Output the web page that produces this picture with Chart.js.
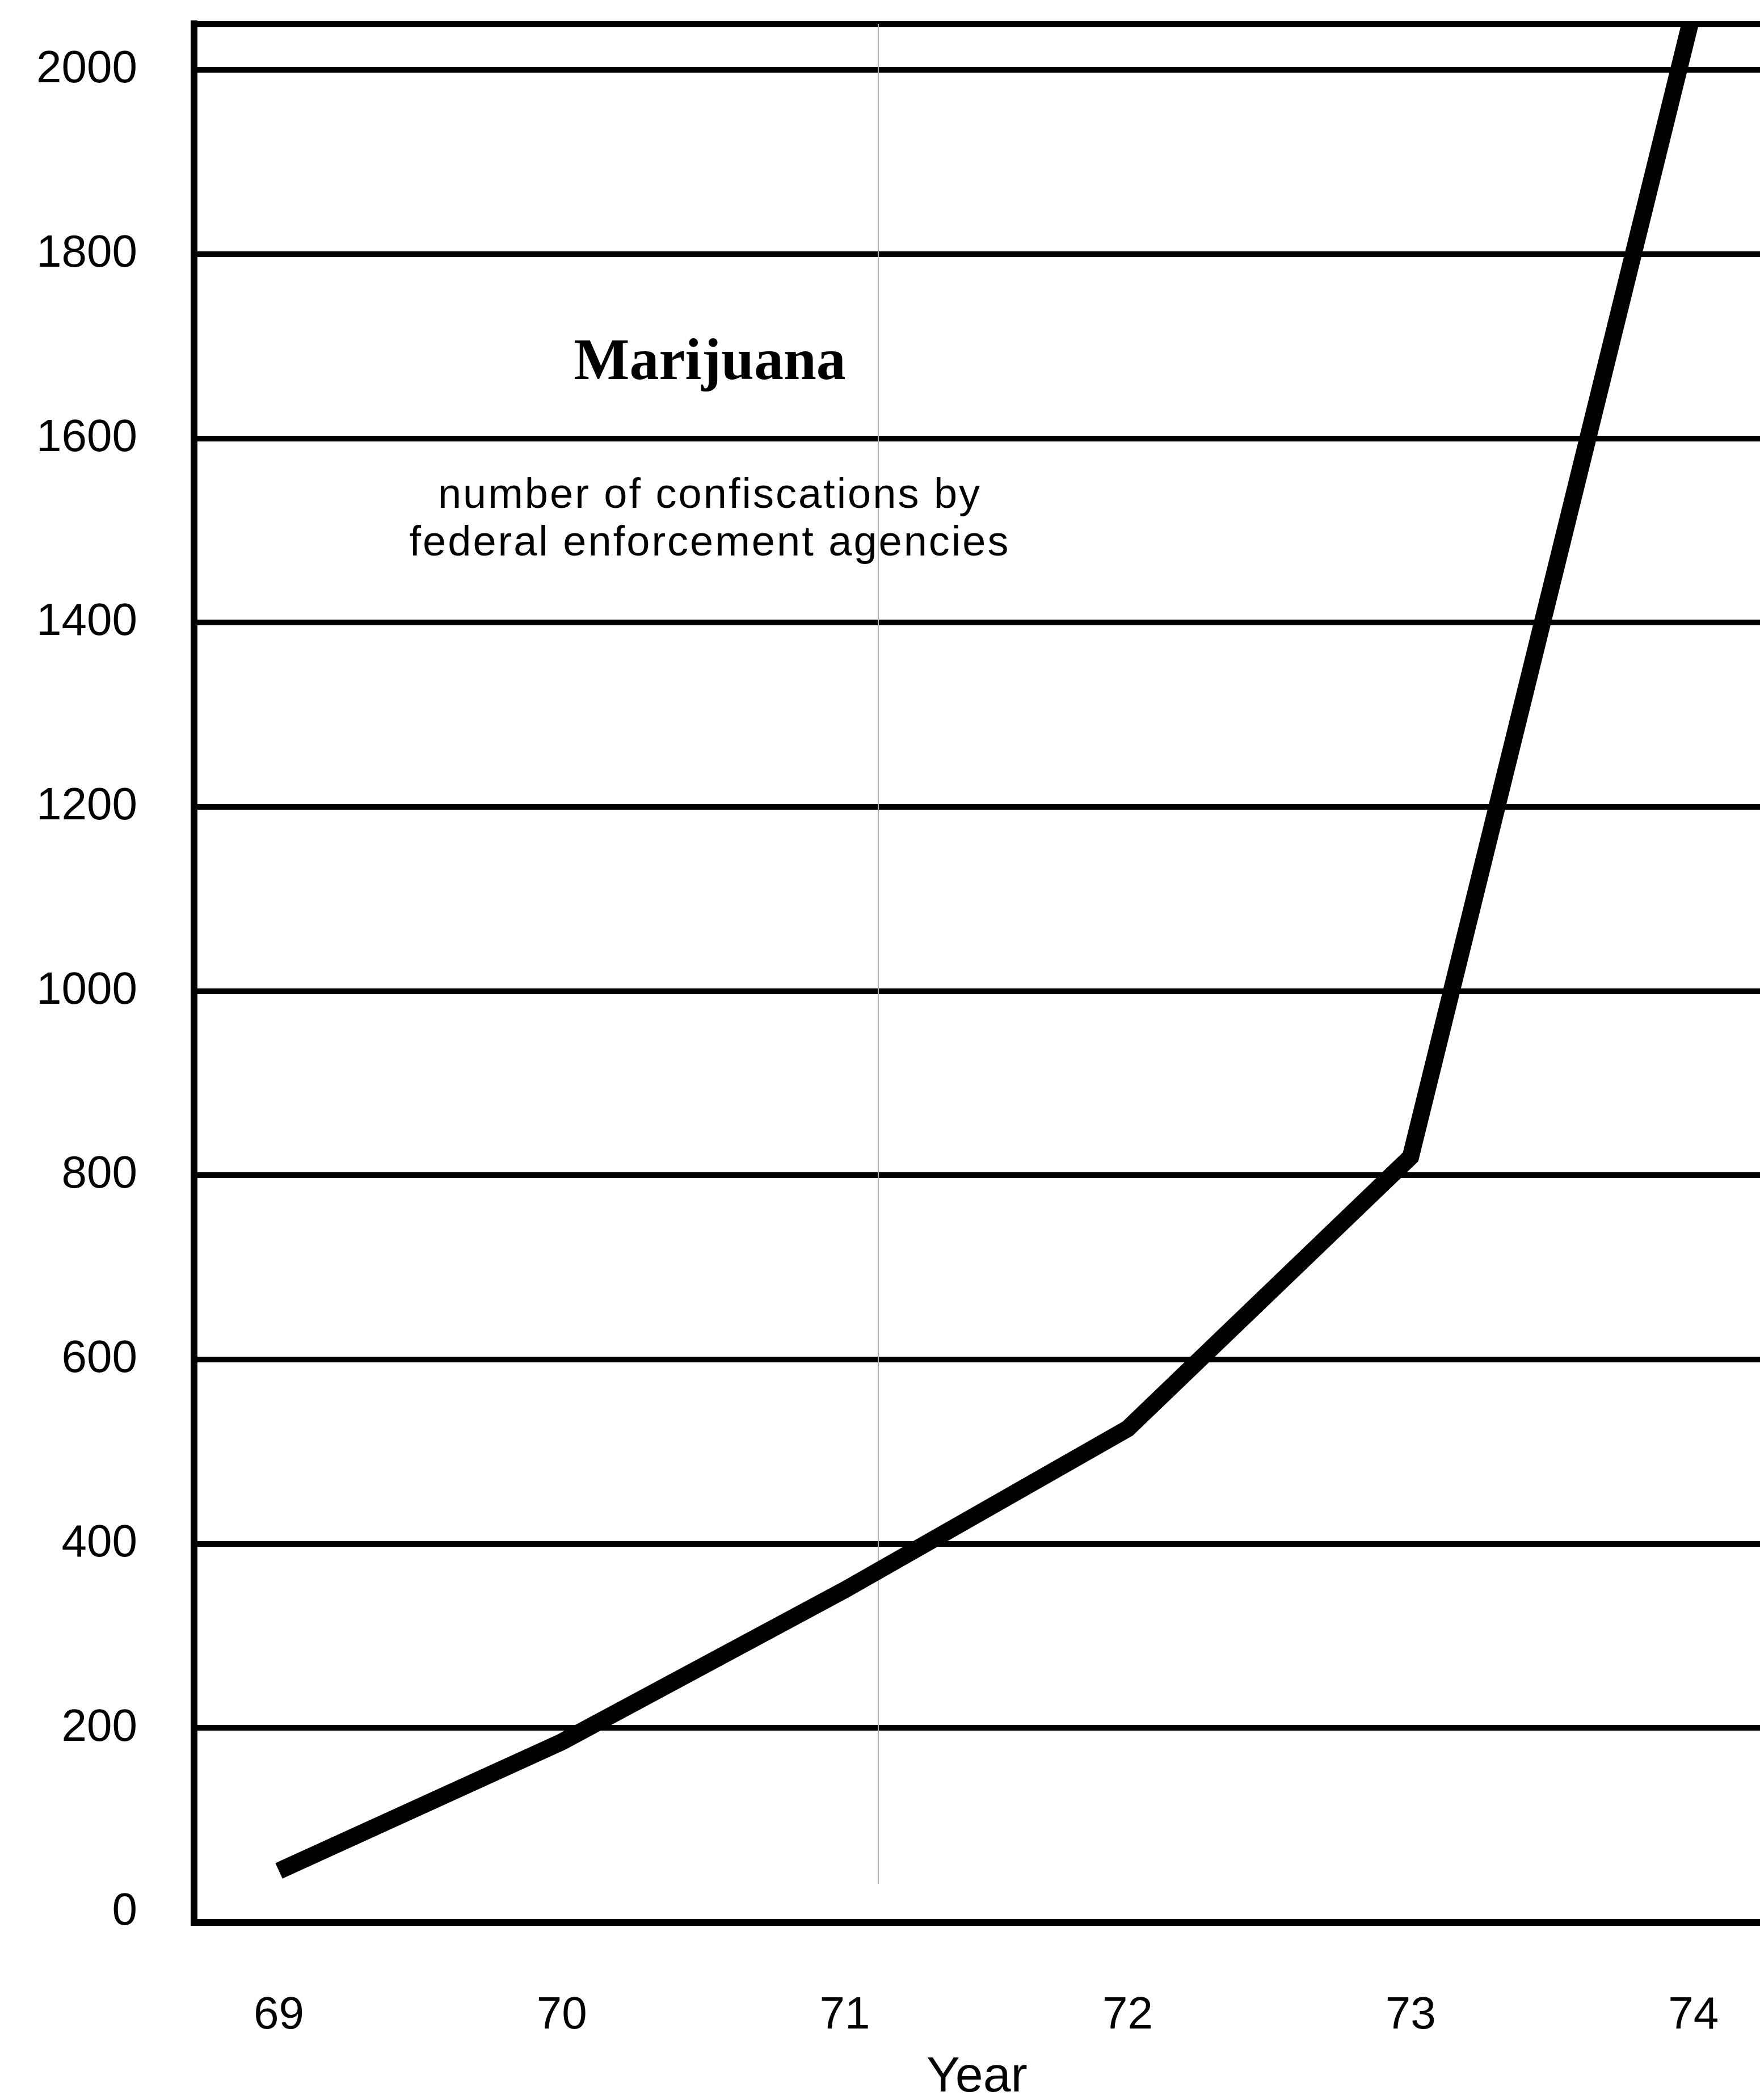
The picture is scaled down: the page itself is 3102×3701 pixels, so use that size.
<!DOCTYPE html>
<html lang="en">
<head>
    <meta charset="UTF-8">
    <title>Marijuana - number of confiscations</title>
    <script src="https://cdn.jsdelivr.net/npm/chart.js@4.4.1/dist/chart.umd.min.js"></script>
    <style>
        * {
            margin: 0;
            padding: 0;
            box-sizing: border-box;
        }
        body {
            background-color: #fff;
            width: 3102px;
            height: 3701px;
            overflow: hidden;
        }
        canvas {
            display: block;
        }
    </style>
</head>
<body>
    <canvas id="seizureChart" width="3102" height="3701"></canvas>

    <script>
        // values
        const years = [69, 70, 71, 72, 73, 74];
        const confiscations = [45, 185, 350, 525, 820, 2065];
        const yTickValues = [0, 200, 400, 600, 800, 1000, 1200, 1400, 1600, 1800, 2000];
        const xTickLabels = ['69', '70', '71', '72', '73', '74'];

        const titleText = 'Marijuana';
        const subtitleLines = ['number of confiscations by', 'federal enforcement agencies'];
        const xAxisTitle = 'Year';

        const tickFont = { family: "'Liberation Sans Narrow', 'Liberation Sans', Arial, sans-serif", size: 80, lineHeight: 0.8 };
        const hidden = 'rgba(0,0,0,0)';

        // draws the heading text and the faint fold line of the scan
        const annotations = {
            id: 'annotations',
            beforeDatasetsDraw(chart) {
                const ctx = chart.ctx;
                ctx.save();
                ctx.strokeStyle = '#b0b0b0';
                ctx.lineWidth = 2;
                ctx.beginPath();
                ctx.moveTo(1548, chart.chartArea.top);
                ctx.lineTo(1548, 3320);
                ctx.stroke();
                ctx.restore();
            },
            afterDraw(chart) {
                const ctx = chart.ctx;
                ctx.save();
                ctx.fillStyle = '#000';
                ctx.textAlign = 'center';
                ctx.textBaseline = 'alphabetic';

                ctx.font = "bold 104px 'Liberation Serif', 'Times New Roman', serif";
                ctx.fillText(titleText, 1251, 668);

                ctx.font = "74px 'Liberation Sans', Arial, sans-serif";
                ctx.letterSpacing = '3px';
                ctx.fillText(subtitleLines[0], 1251, 895);
                ctx.fillText(subtitleLines[1], 1251, 979);
                ctx.restore();
            }
        };

        const ctx = document.getElementById('seizureChart').getContext('2d');
        new Chart(ctx, {
            type: 'line',
            data: {
                datasets: [{
                    label: 'Confiscations',
                    data: years.map((yr, i) => ({ x: yr, y: confiscations[i] })),
                    borderColor: '#000',
                    borderWidth: 30,
                    borderJoinStyle: 'miter',
                    borderCapStyle: 'butt',
                    pointRadius: 0,
                    tension: 0,
                    fill: false,
                    clip: 0
                }]
            },
            options: {
                responsive: false,
                animation: false,
                devicePixelRatio: 1,
                layout: { padding: 0 },
                plugins: {
                    legend: { display: false },
                    tooltip: { enabled: false }
                },
                scales: {
                    x: {
                        type: 'linear',
                        position: 'bottom',
                        min: 68.70,
                        max: 74.235,
                        afterBuildTicks: (scale) => {
                            scale.ticks = years.map(v => ({ value: v }));
                        },
                        afterFit: (scale) => { scale.height = 313; },
                        ticks: {
                            color: '#000',
                            font: { family: tickFont.family, size: 80, lineHeight: 1.32 },
                            padding: 0,
                            maxRotation: 0,
                            autoSkip: false,
                            callback: (value, index) => xTickLabels[index]
                        },
                        grid: {
                            display: true,
                            drawOnChartArea: false,
                            drawTicks: true,
                            tickLength: 112,
                            tickColor: hidden,
                            color: hidden
                        },
                        border: { display: true, color: '#000', width: 12 },
                        title: {
                            display: true,
                            text: xAxisTitle,
                            color: '#000',
                            font: { family: "'Liberation Sans', Arial, sans-serif", size: 88, lineHeight: 0.9 },
                            padding: { top: 0, bottom: 0 }
                        }
                    },
                    xTop: {
                        type: 'linear',
                        position: 'top',
                        afterFit: (scale) => { scale.height = 42; },
                        ticks: { display: false },
                        grid: { display: false, drawTicks: false },
                        border: { display: true, color: '#000', width: 11 }
                    },
                    y: {
                        type: 'linear',
                        position: 'left',
                        min: -11,
                        max: 2050,
                        afterBuildTicks: (scale) => {
                            scale.ticks = yTickValues.map(v => ({ value: v }));
                        },
                        afterFit: (scale) => { scale.width = 342; },
                        ticks: {
                            color: '#000',
                            font: tickFont,
                            padding: 0,
                            callback: (value) => String(value)
                        },
                        grid: {
                            drawTicks: true,
                            tickLength: 100,
                            tickColor: hidden,
                            lineWidth: 10,
                            color: (c) => (c.tick && c.tick.value === 0) ? hidden : '#000'
                        },
                        border: { display: true, color: '#000', width: 12 }
                    }
                }
            },
            plugins: [annotations]
        });
    </script>
</body>
</html>
